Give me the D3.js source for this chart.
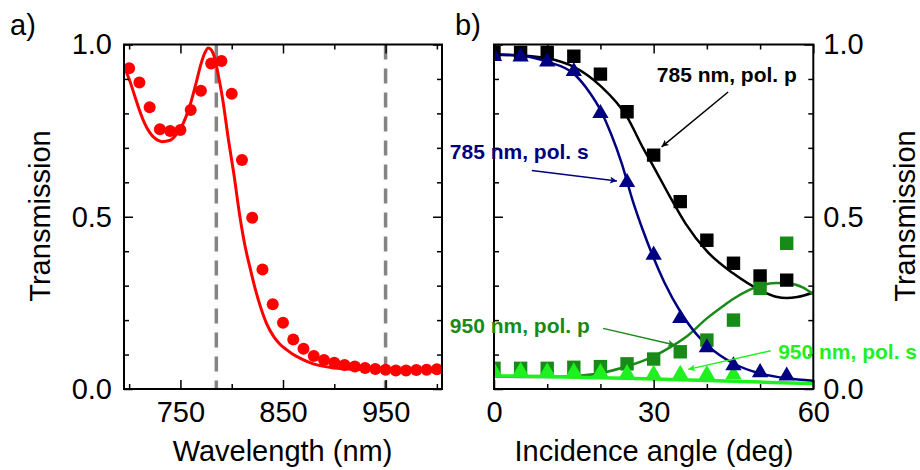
<!DOCTYPE html>
<html>
<head>
<meta charset="utf-8">
<script src="https://cdn.jsdelivr.net/npm/d3@7"></script>
<style>
  body { margin: 0; background: #fff; }
  svg { display: block; font-family: "Liberation Sans", Arial, sans-serif; }
</style>
</head>
<body>
<svg width="920" height="470"></svg>
<script>
// ---- panel a: transmission spectrum ----
var wlMeas = [700, 710, 720, 730, 740, 750, 760, 770, 780, 790, 800, 810, 820, 830, 840, 850,
              860, 870, 880, 890, 900, 910, 920, 930, 940, 950, 960, 970, 980, 990, 1000];
var tMeas = [0.931, 0.890, 0.818, 0.754, 0.749, 0.752, 0.810, 0.866, 0.945, 0.952, 0.857, 0.665,
             0.497, 0.347, 0.246, 0.192, 0.144, 0.117, 0.096, 0.084, 0.076, 0.070, 0.065, 0.061,
             0.058, 0.056, 0.054, 0.054, 0.055, 0.056, 0.057];
var wlFit = [695, 700, 705, 710, 715, 720, 725, 732, 740, 745, 750, 755, 760, 765, 770, 774, 777,
             780, 783, 787, 791, 797, 802, 808, 813, 818, 823, 828, 834, 841, 847, 854, 860, 867,
             875, 883, 900, 920, 950, 980, 1005];
var tFit = [0.935, 0.90, 0.855, 0.81, 0.772, 0.745, 0.728, 0.718, 0.722, 0.735, 0.755, 0.787, 0.83,
            0.885, 0.943, 0.977, 0.99, 0.985, 0.965, 0.91, 0.845, 0.72, 0.626, 0.50, 0.415, 0.35,
            0.29, 0.239, 0.19, 0.152, 0.13, 0.113, 0.10, 0.089, 0.078, 0.070, 0.061, 0.057, 0.055,
            0.054, 0.054];
var laserLines = [785, 950];

// ---- panel b: angle dependence ----
var angles = [0, 5, 10, 15, 20, 25, 30, 35, 40, 45, 50, 55];
var t785p = [0.977, 0.977, 0.977, 0.966, 0.914, 0.805, 0.679, 0.544, 0.432, 0.365, 0.328, 0.316];
var t785s = [0.966, 0.964, 0.95, 0.922, 0.80, 0.60, 0.389, 0.205, 0.12, 0.068, 0.048, 0.038];
var t950p = [0.060, 0.060, 0.060, 0.063, 0.065, 0.073, 0.087, 0.108, 0.142, 0.20, 0.292, 0.423];
var angles950s = [0, 5, 10, 15, 20, 25, 30, 35, 40, 45];
var t950s = [0.052, 0.052, 0.050, 0.050, 0.048, 0.045, 0.043, 0.043, 0.042, 0.042];

var fit785pA = [0, 5, 10, 15, 20, 25, 28, 30, 33, 36, 40, 45, 50, 53, 55, 57, 60];
var fit785pT = [0.97, 0.968, 0.96, 0.935, 0.88, 0.79, 0.70, 0.645, 0.56, 0.48, 0.40, 0.335, 0.287,
                0.268, 0.264, 0.267, 0.28];
var fit785sA = [0, 5, 10, 15, 18, 20, 22, 24, 26, 28, 30, 32, 35, 38, 40, 45, 50, 55, 60];
var fit785sT = [0.972, 0.968, 0.95, 0.915, 0.86, 0.81, 0.74, 0.655, 0.55, 0.46, 0.38, 0.31, 0.225,
                0.16, 0.128, 0.074, 0.045, 0.031, 0.024];
var fit950pA = [0, 5, 10, 15, 20, 25, 30, 33, 36, 40, 43, 45, 48, 50, 53, 55, 58, 60];
var fit950pT = [0.036, 0.035, 0.035, 0.038, 0.046, 0.066, 0.095, 0.12, 0.15, 0.205, 0.24, 0.262,
                0.288, 0.30, 0.308, 0.307, 0.295, 0.275];
var fit950sA = [0, 10, 20, 30, 40, 50, 60];
var fit950sT = [0.038, 0.036, 0.033, 0.029, 0.025, 0.020, 0.016];

var navy = "#000080", dkGreen = "#188a18", ltGreen = "#1ff01f", red = "#ff0000";

var svg = d3.select("svg");
var plotTop = 44.5, plotBottom = 389;
var fontSize = 29;

var yScale = d3.scaleLinear().domain([0, 1]).range([plotBottom, plotTop]);
var xA = d3.scaleLinear().domain([695, 1005]).range([124, 442]);
var xB = d3.scaleLinear().domain([0, 60]).range([494, 813.3]);

var yMajor = [0, 0.5, 1.0];
var yMinor = [0.1, 0.2, 0.3, 0.4, 0.6, 0.7, 0.8, 0.9];

// draw an axis group with inward ticks
function axis(gen, transform, values, size, labels, pad) {
  var g = svg.append("g")
      .attr("transform", transform)
      .call(gen.tickValues(values).tickSize(-size).tickPadding(pad || 12)
               .tickFormat(labels ? d3.format(labels) : ""));
  g.select(".domain").remove();
  g.attr("font-size", fontSize).attr("font-family", null);
  g.selectAll("line").attr("stroke", "#000").attr("stroke-width", 1.5);
  g.selectAll("text").attr("fill", "#000");
  return g;
}

function frame(x, xMajor, xMinor, xFmt, leftLabels, rightLabels) {
  var x0 = x.range()[0], x1 = x.range()[1];
  axis(d3.axisBottom(x), "translate(0," + plotBottom + ")", xMajor, 9, xFmt);
  axis(d3.axisBottom(x), "translate(0," + plotBottom + ")", xMinor, 5, null);
  axis(d3.axisTop(x), "translate(0," + plotTop + ")", xMajor, 9, null);
  axis(d3.axisTop(x), "translate(0," + plotTop + ")", xMinor, 5, null);
  axis(d3.axisLeft(yScale), "translate(" + x0 + ",0)", yMajor, 9, leftLabels ? ".1f" : null);
  axis(d3.axisLeft(yScale), "translate(" + x0 + ",0)", yMinor, 5, null);
  axis(d3.axisRight(yScale), "translate(" + x1 + ",0)", yMajor, 9, rightLabels ? ".1f" : null, 10);
  axis(d3.axisRight(yScale), "translate(" + x1 + ",0)", yMinor, 5, null);
  svg.append("rect")
      .attr("x", x0).attr("y", plotTop)
      .attr("width", x1 - x0).attr("height", plotBottom - plotTop)
      .attr("fill", "none").attr("stroke", "#000").attr("stroke-width", 2);
}

var defs = svg.append("defs");
function clip(id, x) {
  defs.append("clipPath").attr("id", id)
    .append("rect")
      .attr("x", x.range()[0]).attr("y", plotTop)
      .attr("width", x.range()[1] - x.range()[0]).attr("height", plotBottom - plotTop);
}
clip("clipA", xA);
clip("clipB", xB);

[["black", "#000"], ["navy", navy], ["dk", dkGreen], ["lt", ltGreen]].forEach(function(m) {
  defs.append("marker")
      .attr("id", "arrow-" + m[0])
      .attr("viewBox", "0 0 10 10")
      .attr("refX", 10).attr("refY", 5)
      .attr("markerUnits", "userSpaceOnUse")
      .attr("markerWidth", 11).attr("markerHeight", 7)
      .attr("orient", "auto")
    .append("path")
      .attr("d", "M0,0 L10,5 L0,10 L2.5,5 z")
      .attr("fill", m[1]);
});

// ---------- panel a ----------
var plotA = svg.append("g").attr("clip-path", "url(#clipA)");

plotA.selectAll(".laser")
  .data(laserLines)
  .enter()
  .append("line")
    .attr("x1", d => xA(d)).attr("x2", d => xA(d))
    .attr("y1", plotTop).attr("y2", plotBottom)
    .attr("stroke", "#858585")
    .attr("stroke-width", 3.5)
    .attr("stroke-dasharray", "15,9");

plotA.selectAll(".dot")
  .data(wlMeas)
  .enter()
  .append("circle")
    .attr("cx", d => xA(d))
    .attr("cy", (d, i) => yScale(tMeas[i]))
    .attr("r", 6)
    .attr("fill", red);

plotA.append("path")
    .datum(wlFit)
    .attr("fill", "none")
    .attr("stroke", red)
    .attr("stroke-width", 3)
    .attr("d", d3.line()
      .x(d => xA(d))
      .y((d, i) => yScale(tFit[i]))
      .curve(d3.curveMonotoneX));

frame(xA, [750, 850, 950], [700, 800, 900, 1000], "d", true, false);

// ---------- panel b ----------
var plotB = svg.append("g").attr("clip-path", "url(#clipB)");

function fitLine(xs, ys, color, w) {
  plotB.append("path")
      .datum(xs)
      .attr("fill", "none")
      .attr("stroke", color)
      .attr("stroke-width", w)
      .attr("d", d3.line()
        .x(d => xB(d))
        .y((d, i) => yScale(ys[i]))
        .curve(d3.curveMonotoneX));
}

function markers(xs, ys, type, size, color) {
  plotB.append("g")
    .selectAll("path")
    .data(xs)
    .enter()
    .append("path")
      .attr("transform", (d, i) => "translate(" + xB(d) + "," + yScale(ys[i]) + ")")
      .attr("d", d3.symbol().type(type).size(size))
      .attr("fill", color);
}

fitLine(fit785pA, fit785pT, "#000", 2.5);
fitLine(fit950pA, fit950pT, dkGreen, 2.5);
fitLine(fit950sA, fit950sT, ltGreen, 3.5);
fitLine(fit785sA, fit785sT, navy, 2.5);

markers(angles, t785p, d3.symbolSquare, 180, "#000");
markers(angles, t950p, d3.symbolSquare, 180, dkGreen);
markers(angles950s, t950s, d3.symbolTriangle, 115, ltGreen);
markers(angles, t785s, d3.symbolTriangle, 115, navy);

frame(xB, [0, 30, 60], [10, 20, 40, 50], "d", false, true);

// annotations, positioned in data units of panel b
var notes = [
  { text: "785 nm, pol. p", color: "#000", id: "black", at: [30.6, 0.89], from: [44.0, 0.862], to: [31.5, 0.703] },
  { text: "785 nm, pol. s", color: navy, id: "navy", at: [-8.3, 0.667], from: [7.1, 0.634], to: [23.1, 0.604] },
  { text: "950 nm, pol. p", color: dkGreen, id: "dk", at: [-8.3, 0.162], from: [20.5, 0.176], to: [34.0, 0.128] },
  { text: "950 nm, pol. s", color: ltGreen, id: "lt", at: [53.4, 0.086], from: [52.0, 0.111], to: [36.5, 0.057] }
];

notes.forEach(function(n) {
  svg.append("line")
      .attr("x1", xB(n.from[0])).attr("y1", yScale(n.from[1]))
      .attr("x2", xB(n.to[0])).attr("y2", yScale(n.to[1]))
      .attr("stroke", n.color)
      .attr("stroke-width", 1.5)
      .attr("marker-end", "url(#arrow-" + n.id + ")");
  svg.append("text")
      .attr("x", xB(n.at[0]))
      .attr("y", yScale(n.at[1]))
      .attr("font-size", 21)
      .attr("font-weight", "bold")
      .attr("fill", n.color)
      .text(n.text);
});

// axis titles and panel letters
svg.append("text")
    .attr("x", 282.5).attr("y", 461)
    .attr("font-size", fontSize)
    .style("text-anchor", "middle")
    .text("Wavelength (nm)");

svg.append("text")
    .attr("x", 654).attr("y", 461)
    .attr("font-size", fontSize)
    .style("text-anchor", "middle")
    .text("Incidence angle (deg)");

svg.append("text")
    .attr("x", -216).attr("y", 50)
    .attr("font-size", fontSize)
    .attr("transform", "rotate(-90)")
    .style("text-anchor", "middle")
    .text("Transmission");

svg.append("text")
    .attr("x", -216).attr("y", 915)
    .attr("font-size", fontSize)
    .attr("transform", "rotate(-90)")
    .style("text-anchor", "middle")
    .text("Transmission");

svg.append("text")
    .attr("x", 10).attr("y", 35)
    .attr("font-size", fontSize)
    .text("a)");

svg.append("text")
    .attr("x", 455).attr("y", 35)
    .attr("font-size", fontSize)
    .text("b)");
</script>
</body>
</html>
